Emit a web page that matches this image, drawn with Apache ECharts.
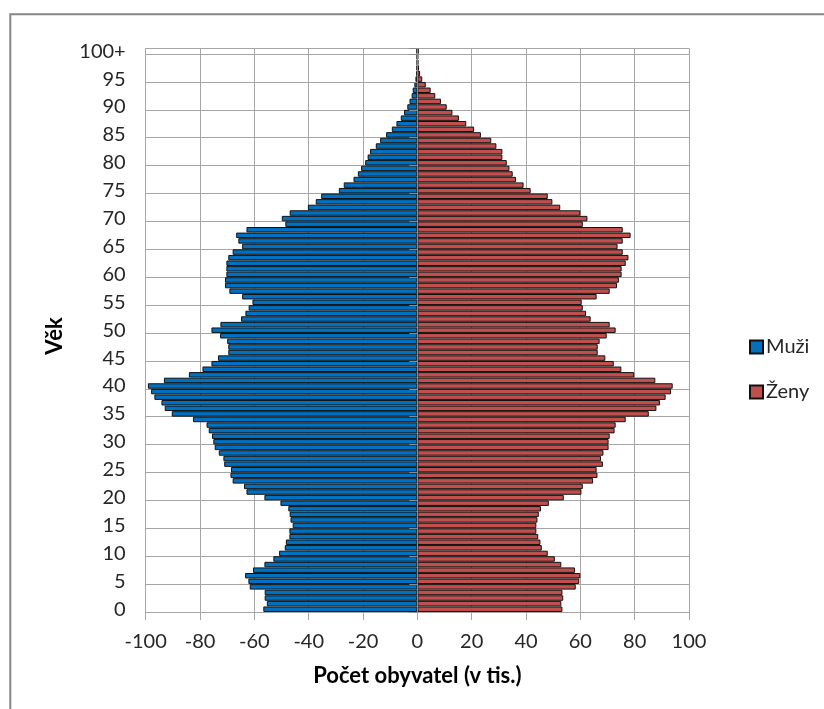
<!DOCTYPE html>
<html>
<head>
<meta charset="utf-8">
<script src="https://cdn.jsdelivr.net/npm/echarts@6/dist/echarts.min.js"></script>
<style>
  html, body { margin: 0; padding: 0; background: #ffffff; }
  #chart { width: 824px; height: 709px; }
</style>
</head>
<body>
<div id="chart"></div>
<script>
// Age groups 0 … 99 and 100+
const ages = [];
for (let a = 0; a < 100; a++) ages.push(String(a));
ages.push('100+');

// Men (thousands), drawn to the left as negative values
const muzi = [
  -56.7, -55.4, -56.2, -56.2, -61.7, -62.2, -63.4, -60.5, -56.3, -53.0,
  -50.9, -48.8, -48.4, -47.1, -47.1, -45.9, -46.7, -47.0, -47.5, -50.4,
  -56.3, -62.9, -63.8, -68.0, -68.8, -68.6, -71.1, -71.4, -73.1, -74.6,
  -75.1, -75.6, -76.8, -77.6, -82.6, -90.4, -93.0, -94.2, -96.8, -98.0,
  -99.2, -93.3, -84.1, -79.1, -75.8, -73.4, -69.6, -69.6, -70.0, -72.6,
  -75.8, -72.5, -64.9, -63.3, -62.1, -60.7, -64.5, -69.2, -70.8, -70.8,
  -70.3, -70.3, -70.3, -69.6, -68.0, -64.5, -65.9, -66.7, -62.9, -48.6,
  -49.9, -47.0, -40.3, -37.4, -35.4, -28.9, -27.1, -23.5, -21.9, -20.7,
  -19.2, -18.3, -17.4, -15.3, -13.7, -11.5, -9.4, -7.7, -6.1, -4.9,
  -3.7, -2.9, -2.1, -1.7, -1.1, -0.7, -0.4, -0.3, -0.2, -0.2,
  -0.3
];

// Women (thousands)
const zeny = [
  53.4, 53.0, 53.7, 53.4, 58.3, 59.6, 60.0, 58.0, 53.0, 50.6,
  48.0, 45.8, 45.3, 44.5, 43.8, 43.8, 44.2, 44.7, 45.5, 48.4,
  53.9, 60.4, 60.9, 64.7, 66.3, 66.0, 68.3, 67.6, 68.5, 70.4,
  70.4, 70.8, 72.6, 73.0, 76.7, 85.2, 88.0, 89.3, 91.4, 93.4,
  94.0, 87.6, 79.8, 75.1, 72.3, 69.2, 66.4, 66.4, 67.1, 69.7,
  73.0, 70.8, 63.8, 62.1, 60.9, 60.5, 66.0, 70.8, 73.5, 74.2,
  75.2, 75.2, 76.7, 77.7, 75.6, 73.7, 75.6, 78.5, 75.6, 60.9,
  62.6, 60.0, 52.6, 49.7, 48.0, 41.7, 39.1, 36.3, 35.1, 33.9,
  32.9, 31.3, 31.3, 29.1, 27.2, 23.4, 20.9, 18.0, 15.3, 12.9,
  10.8, 8.7, 6.6, 4.9, 3.1, 1.8, 1.0, 0.6, 0.4, 0.3,
  0.5
];

const FONT = 'Lato, "Open Sans", sans-serif';
const TEXT = '#262626';
const GRID = '#a6a6a6';

const chart = echarts.init(document.getElementById('chart'), null, { renderer: 'canvas' });

chart.setOption({
  animation: false,
  backgroundColor: '#ffffff',
  textStyle: { fontFamily: FONT },
  grid: { left: 145.7, right: 135, top: 48.4, bottom: 97, containLabel: false },
  legend: {
    orient: 'vertical',
    left: 744,
    top: 332,
    itemWidth: 13,
    itemHeight: 13,
    itemGap: 25,
    icon: 'rect',
    textStyle: { fontFamily: FONT, fontSize: 20, color: TEXT, padding: [0, 0, 0, -2] },
    data: ['Muži', 'Ženy']
  },
  xAxis: {
    type: 'value',
    min: -100,
    max: 100,
    interval: 20,
    axisLine: { show: true, onZero: false, lineStyle: { color: GRID, width: 1 } },
    axisTick: { show: true, length: 8, lineStyle: { color: GRID } },
    axisLabel: { fontFamily: FONT, fontSize: 20, color: TEXT, margin: 20 },
    splitLine: { show: true, lineStyle: { color: GRID, width: 1 } },
    name: 'Počet obyvatel (v tis.)',
    nameLocation: 'middle',
    nameGap: 53,
    nameTextStyle: { fontFamily: FONT, fontSize: 22, fontWeight: 'bold', color: '#000000' }
  },
  yAxis: [
    {
      type: 'category',
      data: ages,
      axisLine: { show: false },
      axisTick: { show: false },
      axisLabel: { interval: 4, fontFamily: FONT, fontSize: 20, color: TEXT, margin: 20 },
      splitLine: { show: true, interval: 4, lineStyle: { color: GRID, width: 1 } }
    },
    {
      // vertical axis line at zero with its outward tick marks
      type: 'category',
      data: ages,
      position: 'left',
      offset: -271.6,
      z: 5,
      axisLine: { show: true, lineStyle: { color: '#8c8c8c', width: 1 } },
      axisTick: { show: true, interval: 4, length: 8, lineStyle: { color: '#8c8c8c' } },
      axisLabel: { show: false },
      splitLine: { show: false }
    }
  ],
  graphic: [
    {
      type: 'rect',
      shape: { x: 10.3, y: 14.3, width: 1200, height: 1200 },
      style: { fill: 'none', stroke: '#878787', lineWidth: 2 },
      silent: true
    },
    {
      type: 'text',
      x: 55,
      y: 336,
      rotation: Math.PI / 2,
      style: {
        text: 'Věk',
        font: 'bold 22px ' + FONT,
        fill: '#000000',
        textAlign: 'center',
        textVerticalAlign: 'middle'
      }
    }
  ],
  series: [
    {
      name: 'Muži',
      type: 'bar',
      stack: 'pyramida',
      barCategoryGap: '2%',
      data: muzi,
      itemStyle: { color: '#0070c0', borderColor: '#111111', borderWidth: 1 }
    },
    {
      name: 'Ženy',
      type: 'bar',
      stack: 'pyramida',
      barCategoryGap: '2%',
      data: zeny,
      itemStyle: { color: '#c0504d', borderColor: '#111111', borderWidth: 1 }
    }
  ]
});
</script>
</body>
</html>
